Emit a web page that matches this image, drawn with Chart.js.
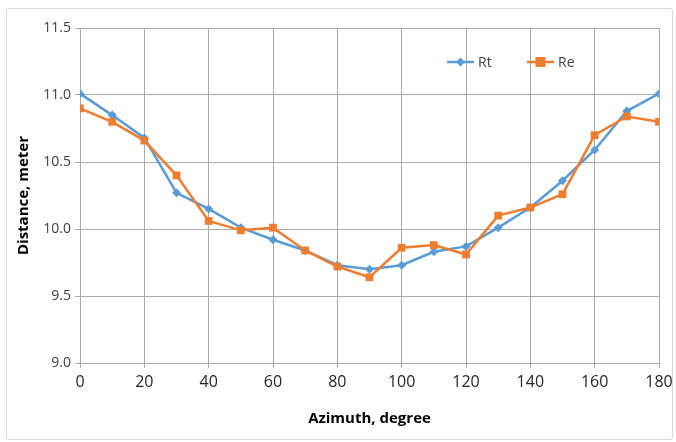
<!DOCTYPE html>
<html>
<head>
<meta charset="utf-8">
<script src="https://cdn.jsdelivr.net/npm/chart.js@4"></script>
<style>
  body { margin: 0; background: #fff; }
  #frame { position: absolute; left: 6px; top: 8px; width: 665px; height: 430px;
           border: 1px solid #d9d9d9; border-radius: 3px; }
  #wrap { position: absolute; left: 0; top: 0; width: 676px; height: 442px; }
</style>
</head>
<body>
<div id="frame"></div>
<div id="wrap"><canvas id="distChart" width="676" height="442"></canvas></div>
<script>
const azimuth = [0, 10, 20, 30, 40, 50, 60, 70, 80, 90, 100, 110, 120, 130, 140, 150, 160, 170, 180];
const rt = [11.01, 10.85, 10.68, 10.27, 10.15, 10.01, 9.92, 9.84, 9.73, 9.70, 9.73, 9.83, 9.87, 10.01, 10.16, 10.36, 10.59, 10.88, 11.01];
const re = [10.90, 10.80, 10.66, 10.40, 10.06, 9.99, 10.01, 9.84, 9.72, 9.64, 9.86, 9.88, 9.81, 10.10, 10.16, 10.26, 10.70, 10.84, 10.80];
const seriesNames = ['Rt', 'Re'];

const blue = '#5B9BD5';
const orange = '#ED7D31';
const gridColor = '#ababab';

// legend drawn inside the plot, line + marker like the original
const insideLegend = {
  id: 'insideLegend',
  afterDraw(chart) {
    const ctx = chart.ctx;
    const items = [
      { name: seriesNames[0], color: blue, x: 447, shape: 'diamond' },
      { name: seriesNames[1], color: orange, x: 527, shape: 'square' }
    ];
    const y = 62;
    ctx.save();
    items.forEach(it => {
      ctx.strokeStyle = it.color;
      ctx.lineWidth = 2.5;
      ctx.beginPath();
      ctx.moveTo(it.x, y);
      ctx.lineTo(it.x + 27, y);
      ctx.stroke();
      ctx.fillStyle = it.color;
      const cx = it.x + 13.5;
      if (it.shape === 'diamond') {
        ctx.beginPath();
        ctx.moveTo(cx, y - 4.5); ctx.lineTo(cx + 4.5, y);
        ctx.lineTo(cx, y + 4.5); ctx.lineTo(cx - 4.5, y);
        ctx.closePath(); ctx.fill();
      } else {
        ctx.fillRect(cx - 5, y - 5, 10, 10);
      }
      ctx.fillStyle = '#404040';
      ctx.font = '14px "Open Sans"';
      ctx.textBaseline = 'middle';
      ctx.fillText(it.name, it.x + 31, y + 1);
    });
    ctx.restore();
  }
};

new Chart(document.getElementById('distChart'), {
  type: 'line',
  plugins: [insideLegend],
  data: {
    datasets: [
      {
        label: seriesNames[0],
        data: azimuth.map((a, i) => ({ x: a, y: rt[i] })),
        borderColor: blue,
        backgroundColor: blue,
        borderWidth: 2.5,
        pointStyle: 'rectRot',
        pointRadius: 4.5,
        pointBorderWidth: 0,
        order: 2
      },
      {
        label: seriesNames[1],
        data: azimuth.map((a, i) => ({ x: a, y: re[i] })),
        borderColor: orange,
        backgroundColor: orange,
        borderWidth: 2.5,
        pointStyle: 'rect',
        pointRadius: 5.5,
        pointBorderWidth: 0,
        order: 1
      }
    ]
  },
  options: {
    responsive: false,
    animation: false,
    layout: { padding: { left: 15, top: 28, right: 0, bottom: 10 } },
    plugins: { legend: { display: false }, tooltip: { enabled: false } },
    scales: {
      x: {
        type: 'linear',
        min: 0, max: 180,
        ticks: { stepSize: 20, color: '#262626', font: { family: 'Open Sans', size: 16 }, padding: 5 },
        grid: { color: gridColor, tickLength: 5, drawTicks: true },
        border: { color: gridColor },
        title: { display: true, text: 'Azimuth, degree', color: '#000',
                 font: { family: 'Open Sans', size: 15, weight: 'bold' }, padding: { top: 7 } },
        afterFit(scale) { scale.height = 69; scale.paddingRight = 17; }
      },
      y: {
        min: 9.0, max: 11.5,
        ticks: { stepSize: 0.5, color: '#404040', font: { family: 'Open Sans', size: 14 },
                 callback: v => v.toFixed(1), padding: 4 },
        grid: { color: gridColor, tickLength: 5 },
        border: { color: gridColor },
        title: { display: true, text: 'Distance, meter', color: '#000',
                 font: { family: 'Open Sans', size: 15, weight: 'bold' }, padding: 0 },
        afterFit(scale) { scale.width = 65; }
      }
    }
  }
});
</script>
</body>
</html>
